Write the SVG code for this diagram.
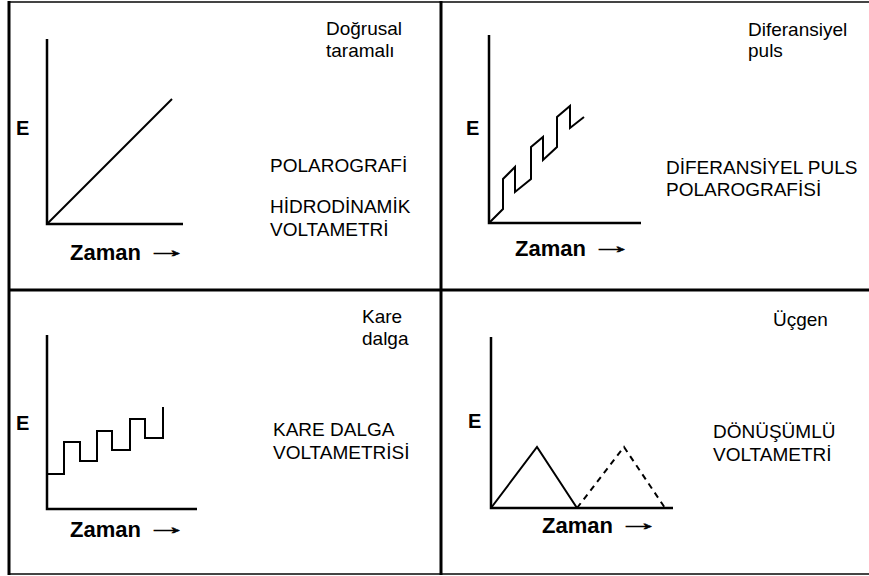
<svg xmlns="http://www.w3.org/2000/svg" width="869" height="576" viewBox="0 0 869 576">
<style>
.lbl{font-family:"Liberation Sans",Arial,sans-serif;font-size:19px;fill:#000}
.e{font-family:"Liberation Sans",Arial,sans-serif;font-size:20px;font-weight:bold;fill:#000}
.z{font-family:"Liberation Sans",Arial,sans-serif;font-size:22px;font-weight:bold;fill:#000}
.arr{font-family:"Liberation Sans",Arial,sans-serif;font-size:22px;font-weight:bold;fill:#000;stroke:#000;stroke-width:0.6}
.axis{fill:none;stroke:#000;stroke-width:2.5}
.curve{fill:none;stroke:#000;stroke-width:2;stroke-linejoin:miter}
.dash{fill:none;stroke:#000;stroke-width:2;stroke-dasharray:6 5}
.frame{stroke:#000;stroke-width:3}
.edge{stroke:#444;stroke-width:2}
</style>
<rect width="869" height="576" fill="#fff"/>
<g id="frame">
<line class="edge" x1="9" y1="2" x2="869" y2="2"/>
<line class="edge" x1="9" y1="574" x2="869" y2="574"/>
<line class="frame" x1="9" y1="1" x2="9" y2="575"/>
<line class="frame" x1="441" y1="1" x2="441" y2="575"/>
<line class="frame" x1="9" y1="290" x2="869" y2="290"/>
</g>
<g id="panel-linear">
<path class="axis" d="M47,39 V224 H183"/>
<path class="curve" d="M47,224 L172,99"/>
<text class="e" x="16" y="135">E</text>
<text class="z" x="70" y="260">Zaman</text>
<text class="arr" x="146" y="257" textLength="42" lengthAdjust="spacingAndGlyphs">→</text>
<text class="lbl" x="326" y="35">Doğrusal</text>
<text class="lbl" x="326" y="57">taramalı</text>
<text class="lbl" x="270" y="172">POLAROGRAFİ</text>
<text class="lbl" x="270" y="213">HİDRODİNAMİK</text>
<text class="lbl" x="270" y="236">VOLTAMETRİ</text>
</g>
<g id="panel-differential">
<path class="axis" d="M489,35 V223 H641"/>
<path class="curve" d="M490,222 L503,209 L503,179 L515,167 L515,192 L531,179 L531,147 L543,137 L543,160 L557,147 L557,117 L570,106 L570,128 L584,117"/>
<text class="e" x="466" y="135">E</text>
<text class="z" x="515" y="256">Zaman</text>
<text class="arr" x="591" y="253" textLength="42" lengthAdjust="spacingAndGlyphs">→</text>
<text class="lbl" x="748" y="36">Diferansiyel</text>
<text class="lbl" x="748" y="57">puls</text>
<text class="lbl" x="666" y="174">DİFERANSİYEL PULS</text>
<text class="lbl" x="666" y="196">POLAROGRAFİSİ</text>
</g>
<g id="panel-square">
<path class="axis" d="M47,335 V509 H197"/>
<path class="curve" d="M47,474 H64 V442 H80 V461 H97 V431 H112 V450 H130 V419 H145 V438 H163 V407"/>
<text class="e" x="16" y="430">E</text>
<text class="z" x="70" y="537">Zaman</text>
<text class="arr" x="146" y="534" textLength="42" lengthAdjust="spacingAndGlyphs">→</text>
<text class="lbl" x="362" y="323">Kare</text>
<text class="lbl" x="362" y="345">dalga</text>
<text class="lbl" x="273" y="436">KARE DALGA</text>
<text class="lbl" x="273" y="459">VOLTAMETRİSİ</text>
</g>
<g id="panel-triangle">
<path class="axis" d="M491,337 V508 H673"/>
<path class="curve" d="M491,508 L537,447 L577,508"/>
<path class="dash" d="M577,508 L624,447 L665,508"/>
<text class="e" x="468" y="428">E</text>
<text class="z" x="542" y="533">Zaman</text>
<text class="arr" x="618" y="530" textLength="42" lengthAdjust="spacingAndGlyphs">→</text>
<text class="lbl" x="773" y="326">Üçgen</text>
<text class="lbl" x="713" y="438">DÖNÜŞÜMLÜ</text>
<text class="lbl" x="713" y="461">VOLTAMETRİ</text>
</g>
<g id="connectors"></g>
</svg>
